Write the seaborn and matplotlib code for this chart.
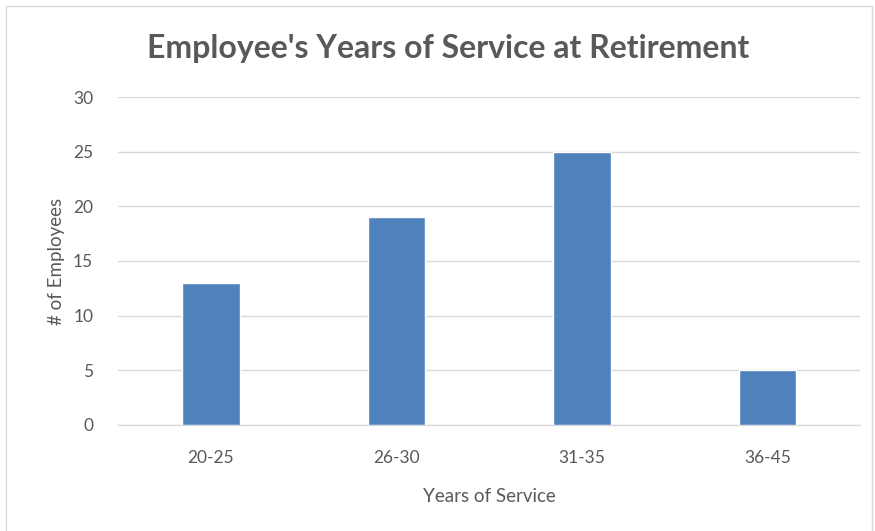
import matplotlib
matplotlib.use("Agg")
import matplotlib.pyplot as plt
import seaborn as sns
import pandas as pd
from matplotlib.patches import Rectangle

categories = ["20-25", "26-30", "31-35", "36-45"]
employees = [13, 19, 25, 5]
y_ticks = [0, 5, 10, 15, 20, 25, 30]

sns.set_theme(style="white")
plt.rcParams['font.family'] = ['Lato', 'DejaVu Sans']

df = pd.DataFrame({"Years of Service": categories, "# of Employees": employees})

fig = plt.figure(figsize=(8.75, 5.31), dpi=100)
ax = fig.add_axes([0.135, 0.2, 0.848, 0.617])

sns.barplot(data=df, x="Years of Service", y="# of Employees", color="#4F81BD",
            saturation=1, width=0.31, ax=ax, zorder=3)

ax.set_ylim(0, 30)
ax.set_yticks(y_ticks)
ax.set_xlim(-0.5, 3.5)
ax.yaxis.grid(True, color="#D9D9D9", linewidth=1, zorder=0)
ax.set_axisbelow(True)
for s in ["top", "right", "left"]:
    ax.spines[s].set_visible(False)
ax.spines["bottom"].set_color("#D9D9D9")
ax.spines["bottom"].set_linewidth(1)
ax.tick_params(axis="both", length=0, colors="#595959", labelsize=12.5)
ax.tick_params(axis="x", pad=18)
ax.tick_params(axis="y", pad=18)
ax.set_xlabel("Years of Service", fontsize=13.5, color="#595959", labelpad=16)
ax.set_ylabel("# of Employees", fontsize=13.5, color="#595959", labelpad=6)

fig.text(0.512, 0.908, "Employee's Years of Service at Retirement", ha="center", va="center",
         fontsize=23, fontweight="bold", color="#595959")

fig.patches.append(Rectangle((0.007, -0.01), 0.99, 0.998, transform=fig.transFigure,
                             fill=False, edgecolor="#D9D9D9", linewidth=1))

fig.savefig("out.png", dpi=100)
